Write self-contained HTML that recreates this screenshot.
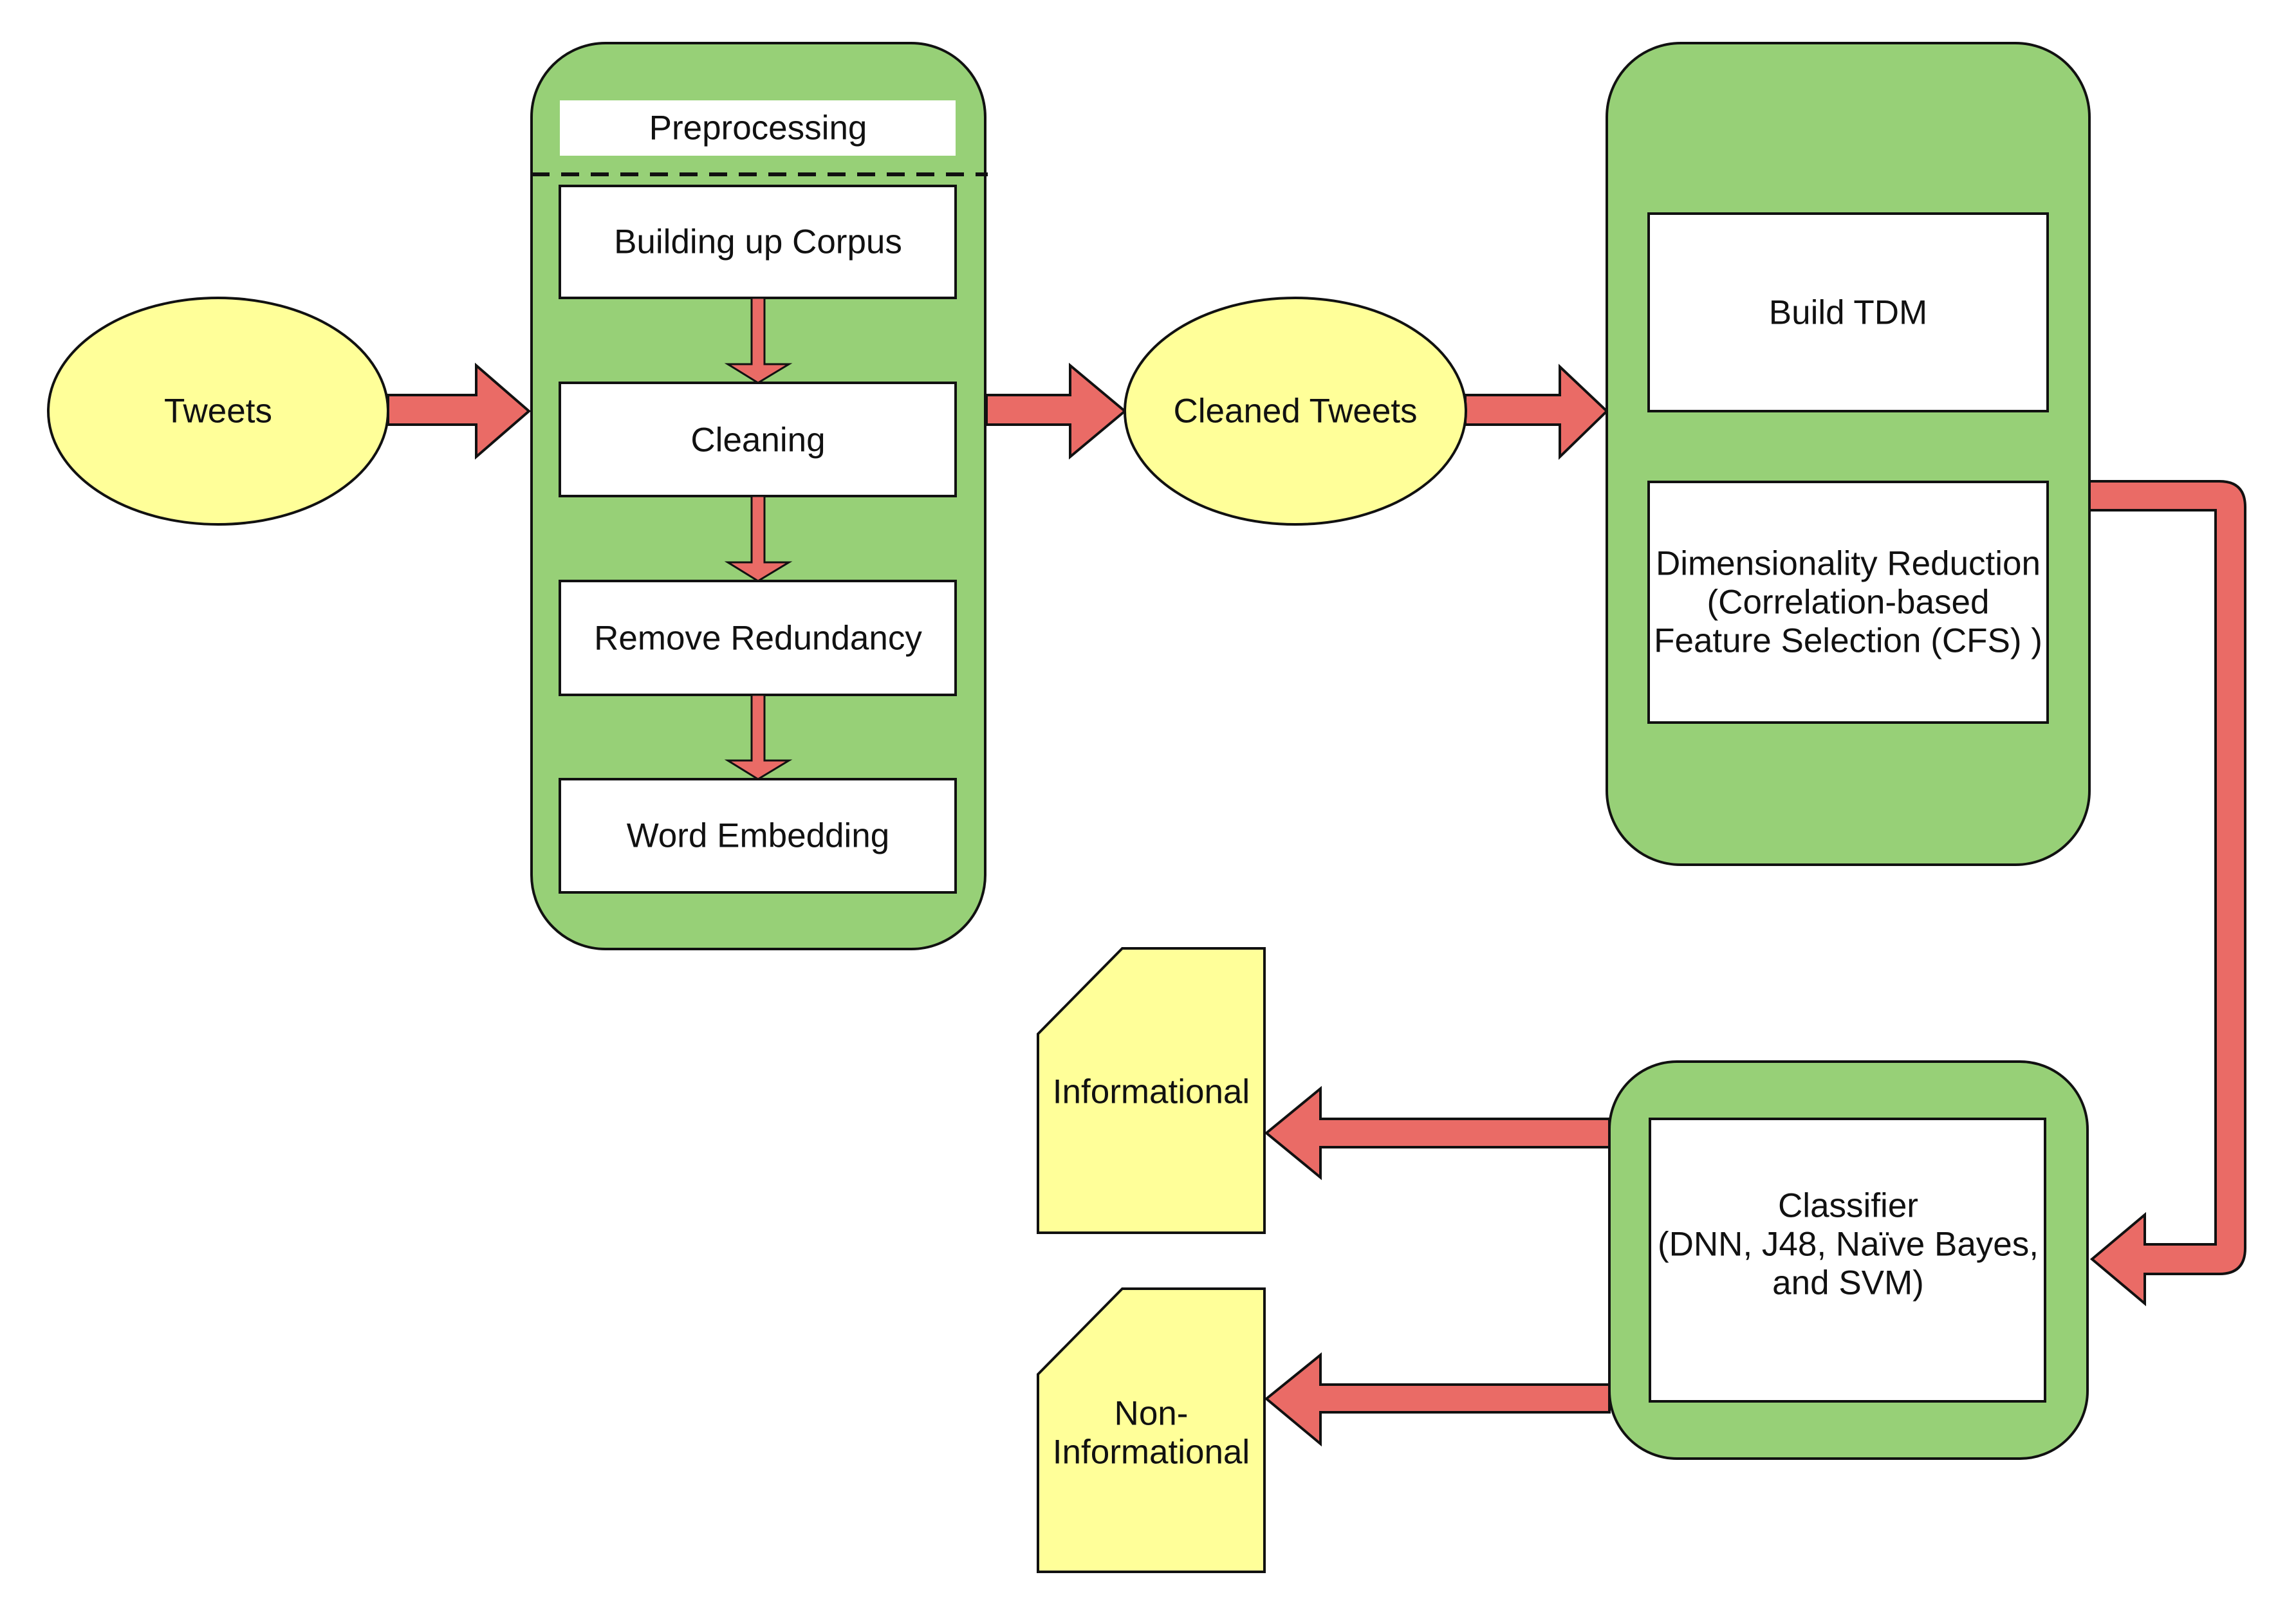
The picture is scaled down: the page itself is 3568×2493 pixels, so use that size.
<!DOCTYPE html>
<html><head><meta charset="utf-8"><style>
html,body{margin:0;padding:0;background:#fff;}
svg{display:block;}
text{font-family:"Liberation Sans",Arial,sans-serif;font-size:53px;fill:#111;text-anchor:middle;dominant-baseline:central;}
</style></head><body>
<svg width="3568" height="2493" viewBox="0 0 3568 2493" xmlns="http://www.w3.org/2000/svg">
<g stroke="#111" stroke-width="4">
<ellipse cx="339" cy="639" rx="264" ry="176" fill="#ffff99"/>
<rect x="826" y="67" width="705" height="1408" rx="115" fill="#97d077"/>
<rect x="870" y="156" width="615" height="86" fill="#fff" stroke="none"/>
<line x1="826" y1="271" x2="1535" y2="271" stroke-width="6" stroke-dasharray="28 18"/>
<rect x="870" y="289" width="615" height="174" fill="#fff"/>
<rect x="870" y="595" width="615" height="176" fill="#fff"/>
<rect x="870" y="903" width="615" height="177" fill="#fff"/>
<rect x="870" y="1211" width="615" height="176" fill="#fff"/>
<g fill="#ea6b66" stroke-width="3">
<polygon points="1168,463 1188,463 1188,566 1226,566 1178,595 1131,566 1168,566"/>
<polygon points="1168,771 1188,771 1188,874 1226,874 1178,903 1131,874 1168,874"/>
<polygon points="1168,1080 1188,1080 1188,1182 1226,1182 1178,1211 1131,1182 1168,1182"/>
</g>
<g fill="#ea6b66">
<polygon points="603,614 740,614 740,568 822,639 740,710 740,660 603,660"/>
<polygon points="1533,614 1663,614 1663,568 1748,639 1663,710 1663,660 1533,660"/>
<polygon points="2277,614 2424,614 2424,570 2497,639 2424,710 2424,660 2277,660"/>
<polygon points="2501,1739 2052,1739 2052,1692 1968,1761 2052,1830 2052,1783 2501,1783"/>
<polygon points="2501,2152 2052,2152 2052,2106 1968,2174 2052,2244 2052,2195 2501,2195"/>
<path d="M3247,748 L3449,748 Q3489,748 3489,788 L3489,1940 Q3489,1980 3449,1980 L3333,1980 L3333,2026 L3251,1957 L3333,1888 L3333,1934 L3443,1934 L3443,793 L3247,793 Z"/>
</g>
<ellipse cx="2013" cy="639" rx="265" ry="176" fill="#ffff99"/>
<rect x="2497" y="67" width="750" height="1277" rx="115" fill="#97d077"/>
<rect x="2562" y="332" width="620" height="307" fill="#fff"/>
<rect x="2562" y="749" width="620" height="374" fill="#fff"/>
<rect x="2501" y="1650" width="743" height="617" rx="105" fill="#97d077"/>
<rect x="2564" y="1739" width="614" height="439" fill="#fff"/>
<polygon points="1613,1607 1744,1474 1965,1474 1965,1916 1613,1916" fill="#ffff99"/>
<polygon points="1613,2136 1744,2003 1965,2003 1965,2443 1613,2443" fill="#ffff99"/>
</g>
<text x="339" y="639">Tweets</text>
<text x="1178" y="199">Preprocessing</text>
<text x="1178" y="376">Building up Corpus</text>
<text x="1178" y="684">Cleaning</text>
<text x="1178" y="992">Remove Redundancy</text>
<text x="1178" y="1299">Word Embedding</text>
<text x="2013" y="639">Cleaned Tweets</text>
<text x="2872" y="486">Build TDM</text>
<text x="2872" y="876">Dimensionality Reduction</text>
<text x="2872" y="936">(Correlation-based</text>
<text x="2872" y="996">Feature Selection (CFS) )</text>
<text x="2872" y="1874">Classifier</text>
<text x="2872" y="1934">(DNN, J48, Naïve Bayes,</text>
<text x="2872" y="1994">and SVM)</text>
<text x="1789" y="1697">Informational</text>
<text x="1789" y="2197">Non-</text>
<text x="1789" y="2257">Informational</text>
</svg>
</body></html>
